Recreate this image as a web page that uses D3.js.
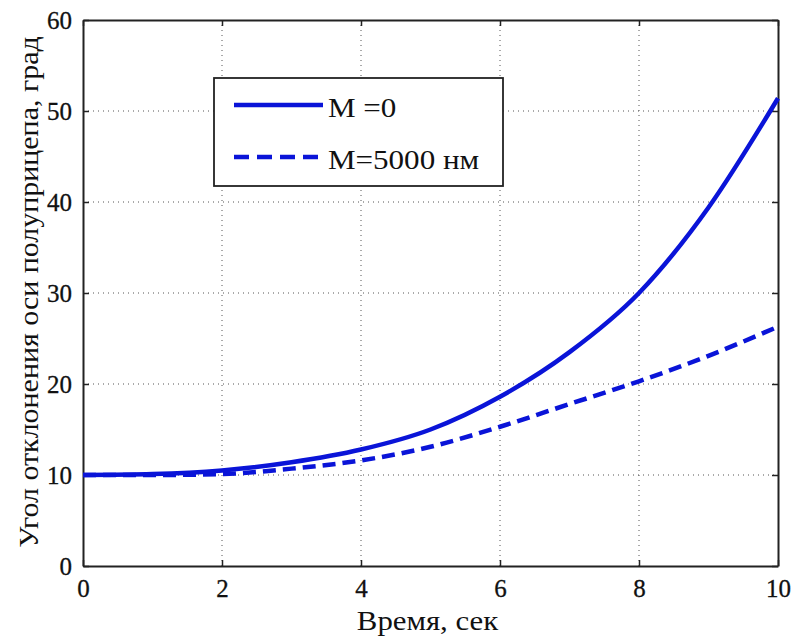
<!DOCTYPE html>
<html>
<head>
<meta charset="utf-8">
<script src="https://cdn.jsdelivr.net/npm/d3@7"></script>
<style>
  body { margin: 0; background: #fff; }
</style>
</head>
<body>
<svg id="chart" width="794" height="638"></svg>
<script>
// time, seconds
var time = [0, 1, 2, 3, 4, 5, 6, 7, 8, 9, 10];
// M = 0
var angleM0 = [10, 10.1, 10.5, 11.4, 12.8, 15.0, 18.6, 23.5, 30.0, 39.4, 51.4];
// M = 5000 Nm
var angleM5000 = [10, 10.0, 10.1, 10.7, 11.6, 13.1, 15.3, 17.8, 20.3, 23.1, 26.3];
var xTicks = [0, 2, 4, 6, 8, 10];
var yTicks = [0, 10, 20, 30, 40, 50, 60];
var legendLabels = ["M =0", "M=5000 нм"];

var serif = "Liberation Serif";
var blue = "#0a14d8";
var svg = d3.select("#chart");
var plotLeft = 83, plotRight = 778, plotTop = 20, plotBottom = 566;

var x = d3.scaleLinear().domain([0, 10]).range([plotLeft, plotRight]);
var y = d3.scaleLinear().domain([0, 60]).range([plotBottom, plotTop]);

// grid
var grid = svg.append("g");
grid.selectAll("line.gx")
    .data(xTicks.slice(1, -1))
    .enter().append("line")
    .attr("x1", d => x(d)).attr("x2", d => x(d))
    .attr("y1", plotTop).attr("y2", plotBottom)
    .attr("stroke", "#555").attr("stroke-width", 1)
    .attr("stroke-dasharray", "1,4");
grid.selectAll("line.gy")
    .data(yTicks.slice(1, -1))
    .enter().append("line")
    .attr("y1", d => y(d)).attr("y2", d => y(d))
    .attr("x1", plotLeft).attr("x2", plotRight)
    .attr("stroke", "#555").attr("stroke-width", 1)
    .attr("stroke-dasharray", "1,4");

// axes (ticks inward, mirrored on top/right)
var xAxis = svg.append("g").attr("transform", "translate(0," + plotBottom + ")")
    .call(d3.axisBottom(x).tickValues(xTicks).tickSizeInner(-6).tickSizeOuter(0).tickPadding(13));
var xAxisTop = svg.append("g").attr("transform", "translate(0," + plotTop + ")")
    .call(d3.axisTop(x).tickValues(xTicks).tickSizeInner(-6).tickSizeOuter(0).tickFormat(""));
var yAxis = svg.append("g").attr("transform", "translate(" + plotLeft + ",0)")
    .call(d3.axisLeft(y).tickValues(yTicks).tickSizeInner(-6).tickSizeOuter(0).tickPadding(11));
var yAxisRight = svg.append("g").attr("transform", "translate(" + plotRight + ",0)")
    .call(d3.axisRight(y).tickValues(yTicks).tickSizeInner(-6).tickSizeOuter(0).tickFormat(""));

[xAxis, xAxisTop, yAxis, yAxisRight].forEach(function(a) {
    a.attr("font-family", serif).attr("font-size", 25);
    a.select(".domain").attr("stroke", "#222").attr("stroke-width", 2);
    a.selectAll(".tick line").attr("stroke", "#222").attr("stroke-width", 1.5);
    a.selectAll("text").attr("fill", "#111").attr("stroke", "#111").attr("stroke-width", 0.3);
});

// lines
var line = d3.line()
    .x((d, i) => x(time[i]))
    .y(d => y(d))
    .curve(d3.curveMonotoneX);

svg.append("path")
    .attr("d", line(angleM5000))
    .attr("fill", "none")
    .attr("stroke", blue)
    .attr("stroke-width", 4.5)
    .attr("stroke-dasharray", "13,7");

svg.append("path")
    .attr("d", line(angleM0))
    .attr("fill", "none")
    .attr("stroke", blue)
    .attr("stroke-width", 4.5);

// legend
var legend = svg.append("g");
legend.append("rect")
    .attr("x", 214).attr("y", 78)
    .attr("width", 289).attr("height", 108)
    .attr("fill", "#fff").attr("stroke", "#222").attr("stroke-width", 1.8);

legendLabels.forEach(function(lbl, i) {
    var ly = 105 + i * 52;
    legend.append("line")
        .attr("x1", 234).attr("x2", 323)
        .attr("y1", ly).attr("y2", ly)
        .attr("stroke", blue).attr("stroke-width", 4.5)
        .attr("stroke-dasharray", i === 1 ? "15,8" : null);
    legend.append("text")
        .attr("transform", "translate(328," + (ly + 12) + ") scale(1.15,1)")
        .attr("font-family", serif)
        .attr("font-size", 27)
        .attr("fill", "#111")
        .text(lbl);
});

// axis labels
svg.append("text")
    .attr("transform", "translate(" + ((plotLeft + plotRight) / 2 - 3) + ",630) scale(1.1,1)")
    .attr("text-anchor", "middle")
    .attr("font-family", serif)
    .attr("font-size", 28)
    .attr("fill", "#111")
    .text("Время, сек");

svg.append("text")
    .attr("transform", "translate(38,292) rotate(-90) scale(1.07,1)")
    .attr("text-anchor", "middle")
    .attr("font-family", serif)
    .attr("font-size", 28)
    .attr("fill", "#111")
    .text("Угол отклонения оси полуприцепа, град");
</script>
</body>
</html>
